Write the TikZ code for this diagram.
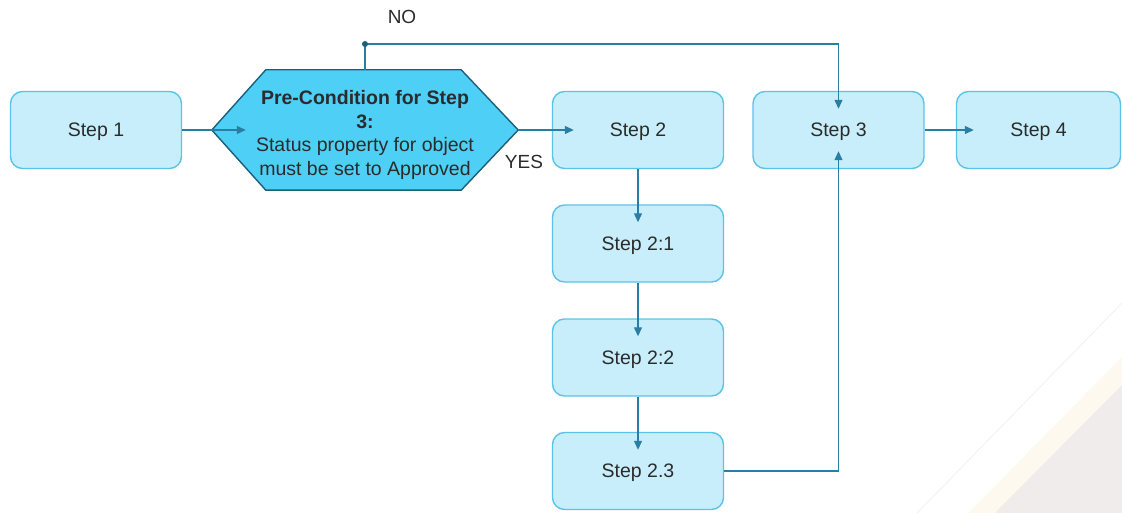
\documentclass[tikz,border=0pt]{standalone}
\usepackage{fontspec}
\setmainfont{Liberation Sans}
\usetikzlibrary{arrows.meta,calc}
\definecolor{boxfill}{HTML}{C8EEFB}
\definecolor{boxline}{HTML}{5CC3E6}
\definecolor{hexfill}{HTML}{4ECFF5}
\definecolor{hexline}{HTML}{1B5F7B}
\definecolor{conncol}{HTML}{2A7EA3}
\definecolor{txt}{HTML}{2B2B2B}
\definecolor{wmgray}{HTML}{EFECEB}
\definecolor{wmbeige}{HTML}{FDF9EE}
\tikzset{
  stepbox/.style={draw=boxline, line width=1.4pt, fill=boxfill, rounded corners=12pt,
    minimum width=171pt, minimum height=77pt, inner sep=0pt, text=txt, text depth=0pt,
    font=\fontsize{19.5}{23}\selectfont},
  hexbox/.style={minimum width=306pt, minimum height=120pt, inner sep=0pt, align=center,
    text=txt, font=\fontsize{19.5}{23.5}\selectfont},
  hexborder/.style={draw=hexline, line width=1.4pt, fill=hexfill},
  conn/.style={draw=conncol, line width=1.3pt, -{Triangle[length=9pt,width=8pt]}},
  lbl/.style={text=txt, font=\fontsize{19}{22}\selectfont, inner sep=0pt}
}
\begin{document}
\begin{tikzpicture}[x=1pt,y=-1pt]
\useasboundingbox (0,0) rectangle (1122,513);
% faint watermark in the corner
\fill[wmbeige] (968,513) -- (1122,357) -- (1122,513) -- cycle;
\fill[wmgray] (995,513) -- (1122,385) -- (1122,513) -- cycle;
\draw[black!6, line width=0.8pt] (917,513) -- (1122,303);

% nodes
\node[stepbox] (s1) at (96,130) {Step 1};
\node[hexbox] (pc) at (365,130) {};
\draw[hexborder] (pc.west) -- ([xshift=54pt]pc.north west) -- ([xshift=-57pt]pc.north east)
  -- (pc.east) -- ([xshift=-57pt]pc.south east) -- ([xshift=54pt]pc.south west) -- cycle;
\node[hexbox, yshift=-5pt] (pctext) at (pc) {\textbf{Pre-Condition for Step}\\\textbf{3:}\\Status property for object\\must be set to Approved};
\node[stepbox] (s2) at (638,130) {Step 2};
\node[stepbox] (s3) at (838.5,130) {Step 3};
\node[stepbox, minimum width=164pt] (s4) at (1038.5,130) {Step 4};
\node[stepbox] (s21) at (638,243.5) {Step 2:1};
\node[stepbox] (s22) at (638,357.5) {Step 2:2};
\node[stepbox] (s23) at (638,471) {Step 2.3};

\node[lbl] (no) at (402,17) {NO};
\node[lbl] (yes) at (524,162) {YES};

% connectors
\coordinate (nojoin) at (365,44);
\draw[conn, shorten >=-34pt] (s1.east) -- (pc.west);
\draw[conn, shorten >=-22pt] (pc.east) -- (s2.west);
\draw[conn, shorten >=-18pt] (pc.north) -- (nojoin) -| (s3.north);
\fill[hexline] (nojoin) circle (3pt);
\draw[conn, shorten >=-18pt] (s3.east) -- (s4.west);
\draw[conn, shorten >=-18pt] (s2.south) -- (s21.north);
\draw[conn, shorten >=-18pt] (s21.south) -- (s22.north);
\draw[conn, shorten >=-18pt] (s22.south) -- (s23.north);
\draw[conn, shorten >=-18pt] (s23.east) -| (s3.south);
\end{tikzpicture}
\end{document}
